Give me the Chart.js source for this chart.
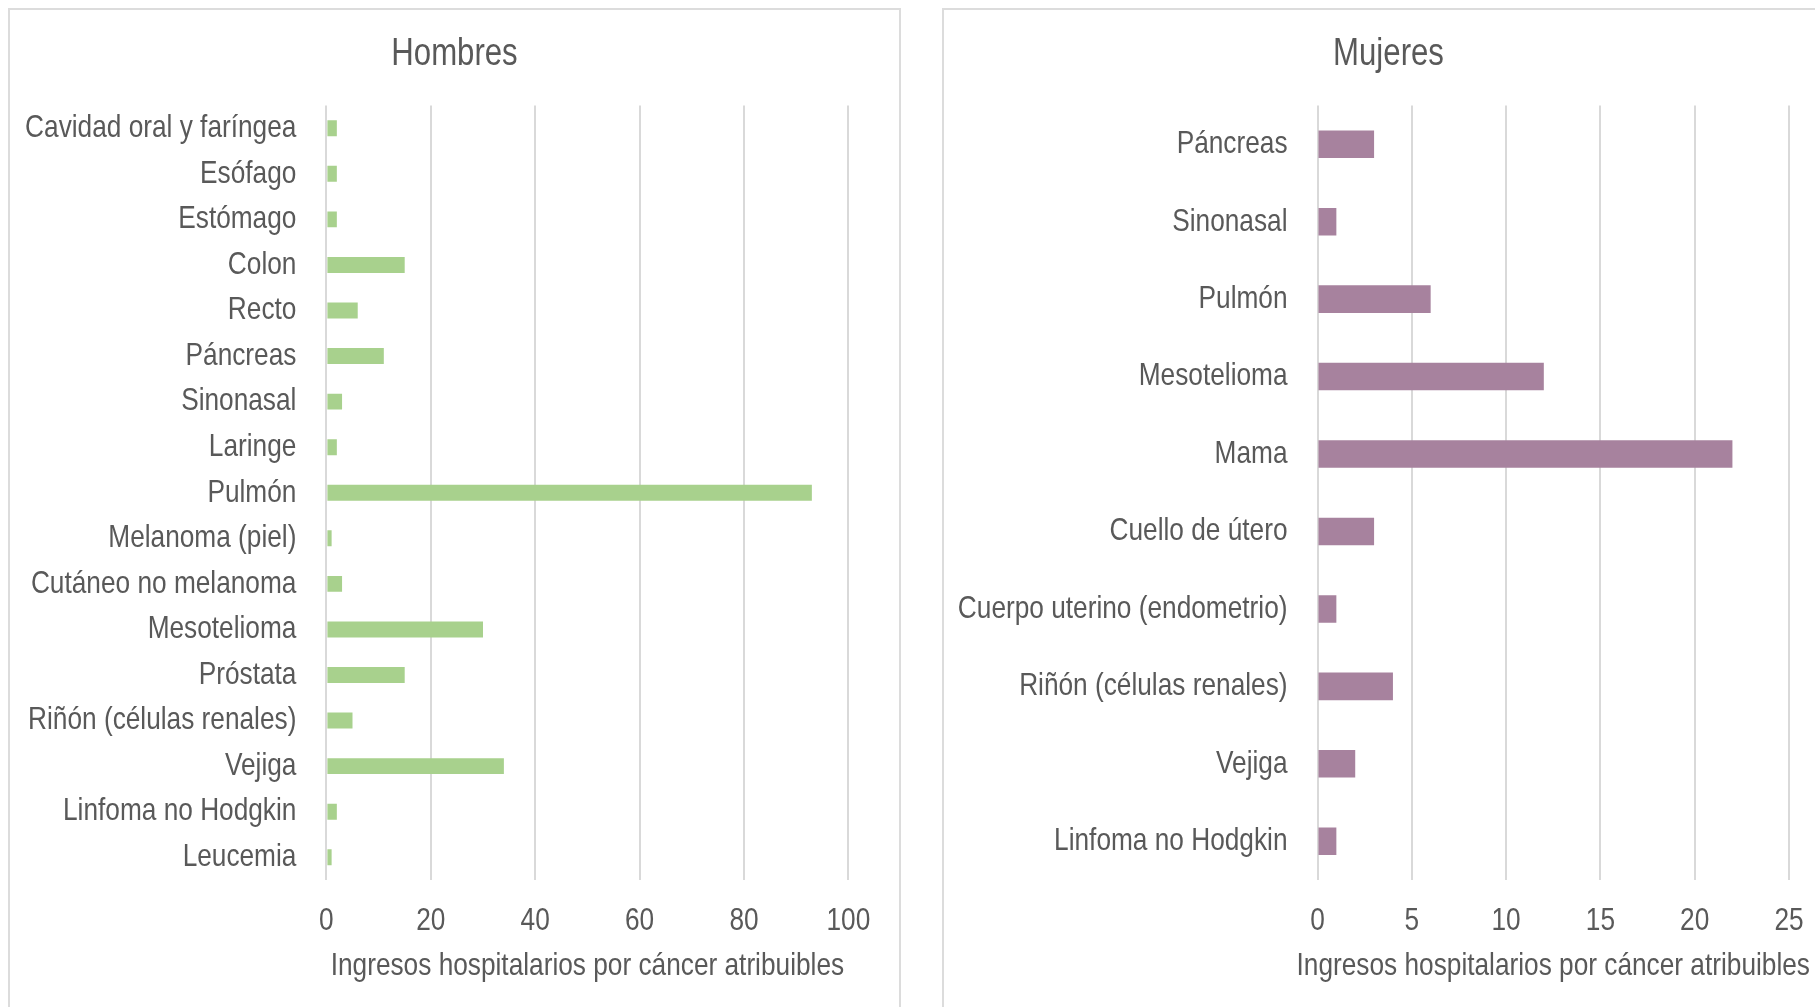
<!DOCTYPE html>
<html><head><meta charset="utf-8">
<script src="https://cdn.jsdelivr.net/npm/chart.js@4.4.1/dist/chart.umd.min.js"></script>
<style>
html,body{margin:0;padding:0;background:#fff;overflow:hidden;width:1815px;height:1007px;position:relative;}
.box{position:absolute;top:8px;width:889px;height:1010px;border:2px solid #dcdcdc;border-bottom:none;background:#fff;}
#b1{left:8px;} #b2{left:942px;}
canvas{display:block;}
</style></head><body>
<div class="box" id="b1"><canvas id="c1" width="889" height="997"></canvas></div>
<div class="box" id="b2"><canvas id="c2" width="889" height="997"></canvas></div>
<script>
const menCategories = ["Cavidad oral y faríngea","Esófago","Estómago","Colon","Recto","Páncreas","Sinonasal","Laringe","Pulmón","Melanoma (piel)","Cutáneo no melanoma","Mesotelioma","Próstata","Riñón (células renales)","Vejiga","Linfoma no Hodgkin","Leucemia"];
const menValues = [2,2,2,15,6,11,3,2,93,1,3,30,15,5,34,2,1];
const womenCategories = ["Páncreas","Sinonasal","Pulmón","Mesotelioma","Mama","Cuello de útero","Cuerpo uterino (endometrio)","Riñón (células renales)","Vejiga","Linfoma no Hodgkin"];
const womenValues = [3,1,6,12,22,3,1,4,2,1];
const menTitle = "Hombres";
const womenTitle = "Mujeres";
const axisTitle = "Ingresos hospitalarios por cáncer atribuibles";
const menTicks = {max:100, step:20};
const womenTicks = {max:25, step:5};

// Narrow text rendering (Arial Narrow look): condense Liberation Sans horizontally.
const NARROW = 0.82;
const origFill = CanvasRenderingContext2D.prototype.fillText;
CanvasRenderingContext2D.prototype.fillText = function(t, x, y){
  const w = this.measureText(t).width * NARROW;
  return origFill.call(this, t, x, y, w);
};

// Center the chart title over the whole canvas (ignoring the layout's right padding).
const fullWidthTitle = {
  id:'fullWidthTitle',
  afterLayout(chart){
    const t = chart.titleBlock;
    if (t) { t.left = 0; t.right = chart.width; t.width = chart.width; }
  }
};

const FONT = "'Liberation Sans', Arial, sans-serif";
const TXT = '#595959';

function makeChart(id, cats, vals, title, color, ticks, yWidth, padRight, barPct){
  new Chart(document.getElementById(id), {
    type:'bar',
    data:{labels:cats, datasets:[{data:vals, backgroundColor:color, borderWidth:0, barPercentage:barPct, categoryPercentage:1}]},
    plugins:[fullWidthTitle],
    options:{
      indexAxis:'y', responsive:false, animation:false,
      layout:{padding:{left:0,right:padRight,top:0,bottom:0}},
      plugins:{
        legend:{display:false}, tooltip:{enabled:false},
        title:{display:true, text:title, color:TXT, font:{family:FONT,size:38,weight:'normal',lineHeight:1.2}, padding:{top:21.7,bottom:28.2}}
      },
      scales:{
        x:{min:0,max:ticks.max,
           ticks:{stepSize:ticks.step,color:TXT,font:{family:FONT,size:32},padding:22,maxRotation:0},
           grid:{color:'#d9d9d9',lineWidth:2,drawTicks:false},
           border:{display:false},
           title:{display:true,text:axisTitle,color:TXT,font:{family:FONT,size:32,lineHeight:1.2},padding:{top:0,bottom:21.5}},
           afterFit(s){s.height=127;}
        },
        y:{ticks:{color:TXT,font:{family:FONT,size:32},padding:30,autoSkip:false},
           grid:{display:false,drawTicks:false},
           border:{display:false},
           afterFit(s){s.width=yWidth;}
        }
      }
    }
  });
}
makeChart('c1', menCategories, menValues, menTitle, '#A8D18D', menTicks, 316.4, 50.6, 0.35);
makeChart('c2', womenCategories, womenValues, womenTitle, '#A7829E', womenTicks, 373.5, 44, 0.356);
</script>
</body></html>
